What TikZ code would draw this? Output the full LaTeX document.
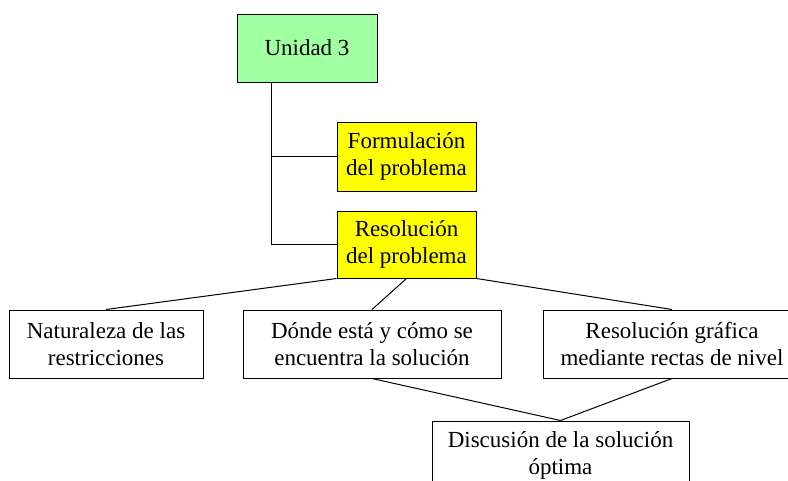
\documentclass[tikz,border=0pt]{standalone}
\usepackage{fontspec}
\setmainfont{Liberation Serif}
\definecolor{boxgreen}{RGB}{160,255,160}
\definecolor{boxyellow}{RGB}{255,255,0}
\begin{document}
\begin{tikzpicture}[x=1pt,y=-1pt,
  box/.style={draw=black, line width=1pt, rectangle, inner sep=0pt, align=center,
    font=\fontsize{23}{27}\selectfont},
  link/.style={draw=black, line width=1pt}]
\clip (0,0) rectangle (788,480);
\fill[white] (0,0) rectangle (788,480);
\node[box, fill=boxgreen, minimum width=140pt, minimum height=68pt] (unit) at (307,48) {Unidad 3};
\node[box, fill=boxyellow, minimum width=139pt, minimum height=69pt] (form) at (406.5,156.5) {Formulación\\del problema};
\node[box, fill=boxyellow, minimum width=139pt, minimum height=67pt] (res) at (406.5,244.5) {Resolución\\del problema};
\node[box, minimum width=194pt, minimum height=68pt] (nat) at (106,344) {Naturaleza de las\\restricciones};
\node[box, minimum width=258pt, minimum height=68pt] (donde) at (372,344) {Dónde está y cómo se\\encuentra la solución};
\node[box, minimum width=258pt, minimum height=68pt] (graf) at (672,344) {Resolución gráfica\\mediante rectas de nivel};
\node[box, minimum width=257pt, minimum height=68pt] (disc) at (560.5,455) {Discusión de la solución\\óptima};
\coordinate (trunk) at ([xshift=35pt]unit.south west);
\draw[link] (trunk) |- (res.west);
\draw[link] (trunk |- form.west) -- (form.west);
\draw[link] (res.south west) -- (nat.north);
\draw[link] (res.south) -- (donde.north);
\draw[link] (res.south east) -- (graf.north);
\draw[link] (donde.south) -- (disc.north);
\draw[link] (graf.south) -- (disc.north);
\end{tikzpicture}
\end{document}
